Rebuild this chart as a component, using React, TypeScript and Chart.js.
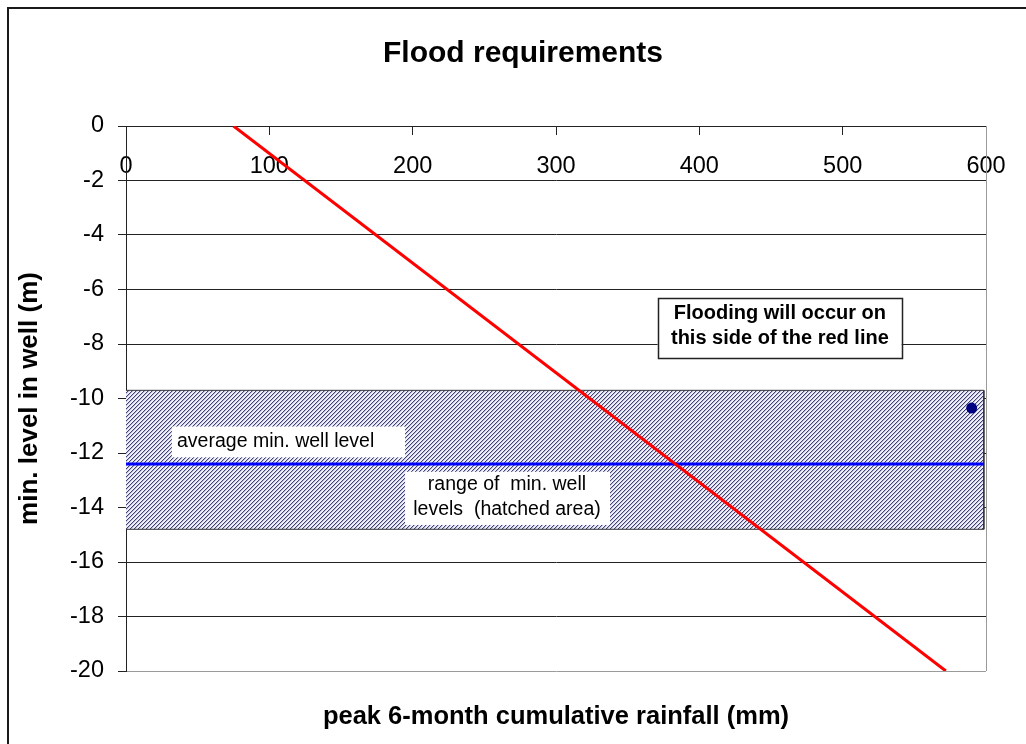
import React, { useEffect, useRef } from "react";
import { Chart, registerables } from "chart.js";

Chart.register(...registerables);

const FONT = "'Liberation Sans', Arial, Helvetica, sans-serif";

const TITLE = "Flood requirements";
const X_TITLE = "peak 6-month cumulative rainfall (mm)";
const Y_TITLE = "min. level in well (m)";

const X_MIN = 0;
const X_MAX = 600;
const X_STEP = 100;
const Y_MIN = -20;
const Y_MAX = 0;
const Y_STEP = 2;

// red flood threshold line
const floodLineX = [75, 572];
const floodLineY = [0, -20];
// average minimum well level (blue line)
const avgLevelX = [0, 598.5];
const avgLevelY = [-12.4, -12.4];
// range of minimum well levels (hatched band)
const rangeX = [0, 598.5];
const rangeTopY = [-9.7, -9.7];
const rangeBottomY = [-14.8, -14.8];
// observed point
const obsX = [590];
const obsY = [-10.35];

// text boxes, anchored in data coordinates
const NOTES = [
  {
    lines: ["average min. well level"],
    x0: 32, x1: 194.7, y0: -11.03, y1: -12.16,
    textX: 35.6, lineY: [-11.585], align: "left",
    font: `19.5px ${FONT}`, border: false,
  },
  {
    lines: ["range of  min. well", "levels  (hatched area)"],
    x0: 194.7, x1: 337.7, y0: -12.69, y1: -14.64,
    textX: 265.8, lineY: [-13.17, -14.09], align: "center",
    font: `19.5px ${FONT}`, border: false,
  },
  {
    lines: ["Flooding will occur on", "this side of the red line"],
    x0: 370.9, x1: 541.2, y0: -6.32, y1: -8.54,
    textX: 456.2, lineY: [-6.87, -7.79], align: "center",
    font: `bold 20px ${FONT}`, border: true,
  },
];

const pts = (xs: number[], ys: number[]) => xs.map((x, i) => ({ x, y: ys[i] }));

const decorPlugin = {
  id: "decor",
  beforeDatasetsDraw(chart: any) {
    const { ctx, chartArea: a } = chart;
    ctx.save();
    ctx.strokeStyle = "#9a9a9a";
    ctx.lineWidth = 1;
    const xr = Math.round(a.right) + 0.5;
    ctx.beginPath();
    ctx.moveTo(xr, a.top);
    ctx.lineTo(xr, a.bottom);
    ctx.stroke();
    ctx.restore();
  },
  afterDatasetsDraw(chart: any) {
    const { ctx } = chart;
    const xs = chart.scales.x;
    const ys = chart.scales.y;
    ctx.save();
    for (const n of NOTES) {
      const l = xs.getPixelForValue(n.x0);
      const r = xs.getPixelForValue(n.x1);
      const t = ys.getPixelForValue(n.y0);
      const b = ys.getPixelForValue(n.y1);
      ctx.fillStyle = "#ffffff";
      ctx.fillRect(l, t, r - l, b - t);
      if (n.border) {
        ctx.strokeStyle = "#222";
        ctx.lineWidth = 1.5;
        ctx.strokeRect(Math.round(l) + 0.5, Math.round(t) + 0.5, Math.round(r - l), Math.round(b - t));
      }
      ctx.fillStyle = "#000";
      ctx.font = n.font;
      ctx.textBaseline = "middle";
      ctx.textAlign = n.align as CanvasTextAlign;
      const tx = xs.getPixelForValue(n.textX);
      n.lines.forEach((line, i) => {
        ctx.fillText(line, tx, ys.getPixelForValue(n.lineY[i]));
      });
    }
    ctx.restore();
  },
};

export default function App() {
  const ref = useRef<HTMLCanvasElement>(null);

  useEffect(() => {
    const canvas = ref.current!;
    const ctx = canvas.getContext("2d")!;

    // diagonal hatch pattern
    const pc = document.createElement("canvas");
    pc.width = 4;
    pc.height = 4;
    const pctx = pc.getContext("2d")!;
    const img = pctx.createImageData(4, 4);
    const dark = [66, 66, 112];
    const mid = [186, 186, 222];
    const light = [240, 240, 252];
    for (let y = 0; y < 4; y++) {
      for (let x = 0; x < 4; x++) {
        const k = (x + y) % 4;
        const c = k === 0 ? dark : k === 1 ? mid : light;
        const i = (y * 4 + x) * 4;
        img.data[i] = c[0];
        img.data[i + 1] = c[1];
        img.data[i + 2] = c[2];
        img.data[i + 3] = 255;
      }
    }
    pctx.putImageData(img, 0, 0);
    const hatch = ctx.createPattern(pc, "repeat");

    const chart = new Chart(canvas, {
      type: "scatter",
      data: {
        datasets: [
          {
            label: "observed",
            data: pts(obsX, obsY),
            showLine: false,
            pointRadius: 5.5,
            pointBackgroundColor: "#000080",
            pointBorderWidth: 0,
          },
          {
            label: "flood line",
            data: pts(floodLineX, floodLineY),
            showLine: true,
            borderColor: "#ff0000",
            borderWidth: 3,
            pointRadius: 0,
          },
          {
            label: "average min. well level",
            data: pts(avgLevelX, avgLevelY),
            showLine: true,
            borderColor: "#0000ff",
            borderWidth: 3,
            pointRadius: 0,
          },
          {
            label: "range edge",
            data: [
              { x: rangeX[1], y: rangeTopY[1] },
              { x: rangeX[1], y: rangeBottomY[1] },
            ],
            showLine: true,
            borderColor: "#333",
            borderWidth: 1,
            pointRadius: 0,
          },
          {
            label: "range top",
            data: pts(rangeX, rangeTopY),
            showLine: true,
            borderColor: "#333",
            borderWidth: 1,
            pointRadius: 0,
          },
          {
            label: "range bottom",
            data: pts(rangeX, rangeBottomY),
            showLine: true,
            borderColor: "#333",
            borderWidth: 1,
            pointRadius: 0,
            fill: 4,
            backgroundColor: hatch as any,
          },
        ],
      },
      options: {
        responsive: false,
        animation: false,
        events: [],
        layout: { padding: { left: 0, right: 0, top: 0, bottom: 11.7 } },
        plugins: {
          legend: { display: false },
          tooltip: { enabled: false },
          title: {
            display: true,
            text: TITLE,
            color: "#000",
            font: { family: FONT, size: 30, weight: "bold", lineHeight: 1.2 },
            padding: { top: 26.7, bottom: 54.3 },
          },
          subtitle: {
            display: true,
            position: "bottom",
            fullSize: false,
            text: X_TITLE,
            color: "#000",
            font: { family: FONT, size: 25.5, weight: "bold", lineHeight: 1.2 },
            padding: { top: 30.7, bottom: 0 },
          },
        },
        scales: {
          x: {
            type: "linear",
            position: { y: 0 } as any,
            min: X_MIN,
            max: X_MAX,
            ticks: {
              stepSize: X_STEP,
              color: "#000",
              font: { family: FONT, size: 23.5 },
              padding: 18.9,
              maxRotation: 0,
              autoSkip: false,
            },
            grid: {
              drawOnChartArea: false,
              drawTicks: true,
              tickLength: 8,
              color: "#222",
            },
            border: { color: "#222", width: 1 },
          },
          y: {
            type: "linear",
            position: "left",
            min: Y_MIN,
            max: Y_MAX,
            ticks: {
              stepSize: Y_STEP,
              color: "#000",
              font: { family: FONT, size: 23.5 },
              padding: 14,
            },
            grid: {
              color: (c: any) => (c.tick && c.tick.value === Y_MIN ? "#9a9a9a" : "#222"),
              tickColor: "#222",
              tickLength: 8,
              lineWidth: 1,
            },
            border: { color: "#222", width: 1 },
            title: {
              display: true,
              text: Y_TITLE,
              color: "#000",
              font: { family: FONT, size: 26, weight: "bold", lineHeight: 1.2 },
              padding: { top: 5.4, bottom: 0 },
            },
            afterFit: (s: any) => {
              s.width = 117;
            },
          },
          yPad: {
            type: "linear",
            position: "right",
            display: true,
            grid: { display: false },
            border: { display: false },
            ticks: { display: false },
            afterFit: (s: any) => {
              s.width = 51;
            },
          },
        },
      } as any,
      plugins: [decorPlugin],
    });
    return () => chart.destroy();
  }, []);

  return (
    <div
      style={{
        position: "fixed",
        left: 7,
        top: 7,
        width: 1019,
        height: 737,
        borderLeft: "2px solid #1a1a1a",
        borderTop: "2px solid #1a1a1a",
        boxSizing: "border-box",
        overflow: "hidden",
        background: "#fff",
      }}
    >
      <canvas ref={ref} width={1028} height={735} style={{ display: "block", width: 1028, height: 735 }} />
    </div>
  );
}
